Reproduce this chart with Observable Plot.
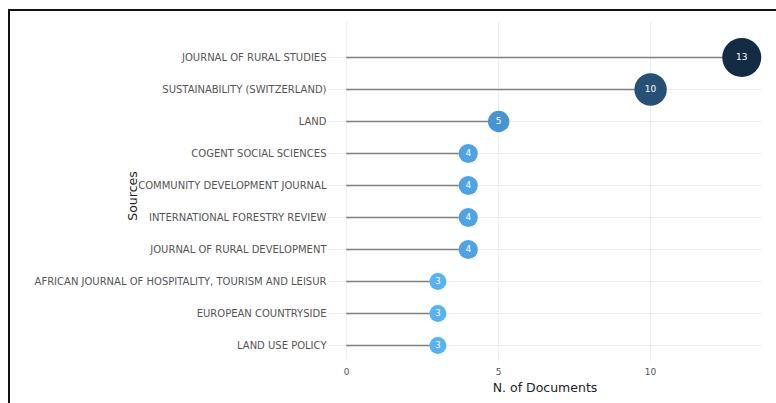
<!DOCTYPE html>
<html>
<head>
<meta charset="utf-8">
<script src="https://cdn.jsdelivr.net/npm/d3@7"></script>
<script src="https://cdn.jsdelivr.net/npm/@observablehq/plot@0.6"></script>
<style>
  html, body { margin: 0; padding: 0; background: #fff; }
  #wrap { position: relative; width: 776px; height: 403px; overflow: hidden; }
  #frame { position: absolute; left: 8px; top: 9px; width: 800px; height: 420px;
           border-left: 2px solid #111; border-top: 2px solid #111; box-sizing: border-box; }
  #chart { position: absolute; left: 0; top: 0; }
  #ylab { position: absolute; left: 132px; top: 196px; transform: translate(-50%, -50%) rotate(-90deg);
          font: 12.5px "DejaVu Sans", Verdana, sans-serif; color: #222; white-space: nowrap; }
</style>
</head>
<body>
<div id="wrap">
  <div id="frame"></div>
  <div id="chart"></div>
  <div id="ylab">Sources</div>
</div>
<script>
const sources = [
  "JOURNAL OF RURAL STUDIES",
  "SUSTAINABILITY (SWITZERLAND)",
  "LAND",
  "COGENT SOCIAL SCIENCES",
  "COMMUNITY DEVELOPMENT JOURNAL",
  "INTERNATIONAL FORESTRY REVIEW",
  "JOURNAL OF RURAL DEVELOPMENT",
  "AFRICAN JOURNAL OF HOSPITALITY, TOURISM AND LEISUR",
  "EUROPEAN COUNTRYSIDE",
  "LAND USE POLICY"
];
const docs = [13, 10, 5, 4, 4, 4, 4, 3, 3, 3];
const xTicks = [0, 5, 10];

const data = sources.map((s, i) => ({source: s, n: docs[i]}));

const chart = Plot.plot({
  width: 776,
  height: 403,
  marginLeft: 328,
  marginRight: 15,
  marginTop: 22,
  marginBottom: 42,
  style: {fontFamily: "'DejaVu Sans', Verdana, sans-serif", fontSize: "9px", background: "transparent"},
  x: {
    domain: [-0.6, 13.65],
    ticks: xTicks,
    tickSize: 0,
    tickPadding: 7,
    grid: true,
    label: "N. of Documents",
    labelAnchor: "center",
    labelArrow: "none",
    labelOffset: 30
  },
  y: {
    type: "point",
    domain: sources,
    range: [55, 346],
    padding: 0,
    tickSize: 0,
    tickPadding: 2,
    grid: true,
    label: null
  },
  color: {type: "linear", domain: [3, 13], range: ["#56B1F7", "#132B43"], interpolate: "lab"},
  r: {type: "linear", domain: [3, 13], range: [8.5, 19.5]},
  marks: [
    Plot.ruleY(data, {y: "source", x1: 0, x2: "n", stroke: "#808080", strokeWidth: 1.6}),
    Plot.dot(data, {x: "n", y: "source", r: "n", fill: "n", stroke: "none"}),
    Plot.text(data, {x: "n", y: "source", text: d => String(d.n), fill: "white", fontSize: 9})
  ]
});

// style axes
d3.select(chart).selectAll("[aria-label='y-axis tick label'] text").attr("fill", "#555").style("font-size", "10px");
d3.select(chart).selectAll("[aria-label='x-axis tick label'] text").attr("fill", "#555");
d3.select(chart).selectAll("[aria-label='x-axis label'] text").attr("fill", "#222").style("font-size", "12.5px");
d3.select(chart).selectAll("[aria-label='x-grid'] line, [aria-label='y-grid'] line").attr("stroke", "#ebebeb").attr("stroke-opacity", 1);

document.getElementById("chart").appendChild(chart);
</script>
</body>
</html>
